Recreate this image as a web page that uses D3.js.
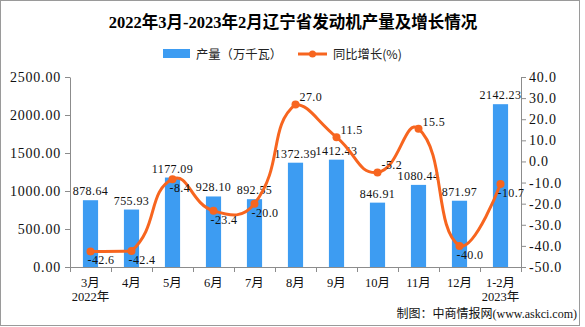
<!DOCTYPE html>
<html><head><meta charset="utf-8">
<script src="https://cdn.jsdelivr.net/npm/d3@7"></script>
<style>
html,body{margin:0;padding:0;background:#fff;}
svg{display:block;}
</style></head>
<body>
<svg id="chart" width="585" height="327"></svg>
<script>
const categories = ["3月","4月","5月","6月","7月","8月","9月","10月","11月","12月","1-2月"];
const subLabels = ["2022年","","","","","","","","","","2023年"];
const production = [878.64,755.93,1177.09,928.10,892.55,1372.39,1412.43,846.91,1080.44,871.97,2142.23];
const growth = [-42.6,-42.4,-8.4,-23.4,-20.0,27.0,11.5,-5.2,15.5,-40.0,-10.7];
const growthLabelSide = ["below","below","below","below","below","above","above","above","above","below","below"];
const leftTicks = [0,500,1000,1500,2000,2500];
const rightTicks = [-50,-40,-30,-20,-10,0,10,20,30,40];
const title = "2022年3月-2023年2月辽宁省发动机产量及增长情况";
const legendNames = ["产量（万千瓦）","同比增长(%)"];
const source = "制图：中商情报网(www.askci.com)";

const BAR = "#3d9cf2", LINE = "#f7651f", AXIS = "#8c8c8c";
const NUM = "'Liberation Serif','Noto Sans CJK SC',serif";
const CJK = "'Noto Sans CJK SC',sans-serif";

const svg = d3.select("#chart");
svg.append("rect").attr("x",0.5).attr("y",0.5).attr("width",579).attr("height",325)
  .attr("fill","#fff").attr("stroke","#9a9a9a");

const L = 70, R = 521, T = 77, B = 267;
const x = d3.scaleBand().domain(categories).range([L,R]).padding(0);
const yL = d3.scaleLinear().domain([0,2500]).range([B,T]);
const yR = d3.scaleLinear().domain([-50,40]).range([B,T]);
const bw = x.bandwidth()*0.37;

// title
svg.append("text").attr("x",293).attr("y",28).attr("text-anchor","middle")
  .attr("font-family",NUM).attr("font-weight","bold").attr("font-size",16.5).attr("fill","#000")
  .text(title);

// legend
const lg = svg.append("g");
lg.append("rect").attr("x",163).attr("y",49).attr("width",27).attr("height",9).attr("fill",BAR);
lg.append("text").attr("x",196).attr("y",58.5).attr("font-family",CJK).attr("font-size",12.3).attr("fill","#222").text(legendNames[0]);
lg.append("line").attr("x1",298).attr("x2",327).attr("y1",54).attr("y2",54).attr("stroke",LINE).attr("stroke-width",3);
lg.append("circle").attr("cx",312.5).attr("cy",54).attr("r",3.5).attr("fill",LINE);
lg.append("text").attr("x",333).attr("y",58.5).attr("font-family",CJK).attr("font-size",12.3).attr("fill","#222").text(legendNames[1]);

// bars
svg.append("g").selectAll("rect").data(production).join("rect")
  .attr("x",(d,i)=>x(categories[i])+x.bandwidth()/2-bw/2)
  .attr("y",d=>yL(d)).attr("width",bw).attr("height",d=>yL(0)-yL(d))
  .attr("fill",BAR);

// axes
const fmt2 = d=>d.toFixed(2), fmt1 = d=>d.toFixed(1);
const gl = svg.append("g").attr("transform",`translate(${L},0)`)
  .call(d3.axisLeft(yL).tickValues(leftTicks).tickFormat(fmt2).tickSize(5).tickSizeOuter(0).tickPadding(4));
const gr = svg.append("g").attr("transform",`translate(${R},0)`)
  .call(d3.axisRight(yR).tickValues(rightTicks).tickFormat(fmt1).tickSize(5).tickSizeOuter(0).tickPadding(3));
[gl,gr].forEach(g=>{
  g.selectAll("path,line").attr("stroke",AXIS);
  g.selectAll("text").attr("font-family",NUM).attr("font-size",14).attr("letter-spacing",0.8).attr("fill","#111");
});

// x axis
const gx = svg.append("g");
gx.append("line").attr("x1",L).attr("x2",R).attr("y1",B+0.5).attr("y2",B+0.5).attr("stroke",AXIS);
const bounds = categories.map(c=>x(c)).concat([x(categories[categories.length-1])+x.bandwidth()]);
gx.selectAll("line.t").data(bounds).join("line").attr("class","t")
  .attr("x1",d=>Math.round(d)+0.5).attr("x2",d=>Math.round(d)+0.5).attr("y1",B).attr("y2",B+5).attr("stroke",AXIS);
gx.selectAll("text.c").data(categories).join("text").attr("class","c")
  .attr("x",d=>x(d)+x.bandwidth()/2).attr("y",287).attr("text-anchor","middle")
  .attr("font-family",NUM).attr("font-size",12.5).attr("fill","#111").text(d=>d);
gx.selectAll("text.s").data(subLabels).join("text").attr("class","s")
  .attr("x",(d,i)=>x(categories[i])+x.bandwidth()/2).attr("y",301).attr("text-anchor","middle")
  .attr("font-family",NUM).attr("font-size",12.5).attr("fill","#111").text(d=>d);

// bar labels
svg.append("g").selectAll("text").data(production).join("text")
  .attr("x",(d,i)=>x(categories[i])+x.bandwidth()/2).attr("y",d=>yL(d)-5)
  .attr("text-anchor","middle").attr("font-family",NUM).attr("font-size",12).attr("letter-spacing",0.4)
  .attr("fill","#111").text(fmt2);

// smooth line (echarts-like bezier with bbox constraint)
const pts = growth.map((v,i)=>[x(categories[i])+x.bandwidth()/2, yR(v)]);
function smoothPath(points, smooth){
  const minY = d3.min(points,p=>p[1]), maxY = d3.max(points,p=>p[1]);
  const minX = d3.min(points,p=>p[0]), maxX = d3.max(points,p=>p[0]);
  const cps = [];
  const n = points.length;
  for(let i=0;i<n;i++){
    const p = points[i];
    if(i===0||i===n-1){cps.push(p.slice());continue;}
    const pr = points[i-1], nx = points[i+1];
    const v = [(nx[0]-pr[0])*smooth,(nx[1]-pr[1])*smooth];
    let d0 = Math.hypot(p[0]-pr[0],p[1]-pr[1]), d1 = Math.hypot(p[0]-nx[0],p[1]-nx[1]);
    const s = d0+d1; if(s){d0/=s;d1/=s;}
    const c0 = [p[0]-v[0]*d0, p[1]-v[1]*d0];
    const c1 = [p[0]+v[0]*d1, p[1]+v[1]*d1];
    [c0,c1].forEach(c=>{c[0]=Math.max(minX,Math.min(maxX,c[0]));c[1]=Math.max(minY,Math.min(maxY,c[1]));});
    cps.push(c0,c1);
  }
  const path = d3.path();
  path.moveTo(points[0][0],points[0][1]);
  for(let i=1;i<n;i++){
    const a = cps[2*(i-1)], b = cps[2*(i-1)+1];
    path.bezierCurveTo(a[0],a[1],b[0],b[1],points[i][0],points[i][1]);
  }
  return path.toString();
}
svg.append("path").attr("d",smoothPath(pts,0.5)).attr("fill","none").attr("stroke",LINE).attr("stroke-width",3);
svg.append("g").selectAll("circle").data(pts).join("circle")
  .attr("cx",d=>d[0]).attr("cy",d=>d[1]).attr("r",4).attr("fill",LINE);

// growth labels
svg.append("g").selectAll("text").data(growth).join("text")
  .attr("x",(d,i)=>pts[i][0]+(growthLabelSide[i]==="above"?4:-3))
  .attr("y",(d,i)=>pts[i][1]+(growthLabelSide[i]==="above"?-3:13))
  .attr("font-family",NUM).attr("font-size",12).attr("letter-spacing",0.4).attr("fill","#111").text(fmt1);

// source
svg.append("text").attr("x",577).attr("y",318).attr("text-anchor","end")
  .attr("font-family",NUM).attr("font-size",12).attr("fill","#111").text(source);
</script>
</body></html>
